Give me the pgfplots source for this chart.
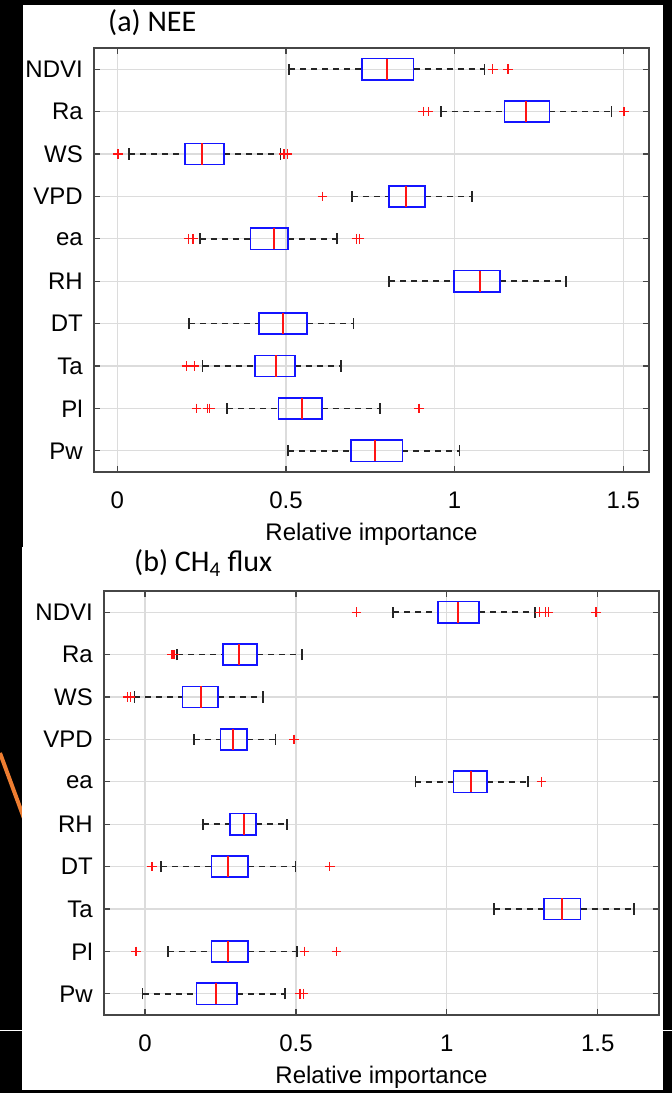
\documentclass[border=0pt]{standalone}
\usepackage{pgfplots}
\pgfplotsset{compat=1.18}
\usepgfplotslibrary{statistics}
\usepackage{fontspec}
\setmainfont{Liberation Sans}
\newfontfamily\titlefont{Carlito}

\definecolor{axisgray}{RGB}{70,70,70}
\definecolor{gridgray}{RGB}{220,220,220}
\definecolor{boxblue}{RGB}{20,20,255}
\definecolor{medred}{RGB}{255,20,20}
\definecolor{arroworange}{RGB}{237,125,49}

\newcommand{\ticksize}{\fontsize{24}{28}\selectfont}

\pgfplotsset{
  relimp/.style={
    scale only axis,
    width=555pt, height=424pt,
    ymin=0.5, ymax=10.5,
    ytick={1,...,10},
    yticklabels={Pw,Pl,Ta,DT,RH,ea,VPD,WS,Ra,NDVI},
    xtick={0,0.5,1,1.5},
    xticklabels={0,0.5,1,1.5},
    grid=major,
    grid style={gridgray, line width=1.3pt},
    axis line style={axisgray, line width=1.3pt},
    major tick style={axisgray, line width=1.3pt},
    major tick length=6pt,
    tick align=inside,
    tick label style={font=\ticksize, inner sep=0pt},
    xticklabel style={anchor=north, yshift=-20pt},
    yticklabel style={anchor=east, xshift=-11pt},
    xlabel={Relative importance},
    xlabel style={font=\ticksize, at={(axis description cs:0.5,0)},
      anchor=north, inner sep=0pt, yshift=-51pt},
    boxplot/draw direction=x,
    boxplot/box extend=0.5,
    boxplot/whisker extend=0.26,
    boxplot/every box/.style={draw=boxblue, line width=1.7pt, solid},
    boxplot/every median/.style={draw=medred, line width=2pt, solid},
    boxplot/draw/lower whisker/.code={%
      \draw[black!85, line width=1.5pt, dash pattern=on 6pt off 5pt]
        (boxplot whisker cs:\pgfplotsboxplotvalue{lower whisker},0.5) --
        (boxplot whisker cs:\pgfplotsboxplotvalue{lower quartile},0.5);
      \draw[black!85, line width=1.7pt, solid]
        (boxplot whisker cs:\pgfplotsboxplotvalue{lower whisker},0) --
        (boxplot whisker cs:\pgfplotsboxplotvalue{lower whisker},1);
    },
    boxplot/draw/upper whisker/.code={%
      \draw[black!85, line width=1.5pt, dash pattern=on 6pt off 5pt]
        (boxplot whisker cs:\pgfplotsboxplotvalue{upper quartile},0.5) --
        (boxplot whisker cs:\pgfplotsboxplotvalue{upper whisker},0.5);
      \draw[black!85, line width=1.7pt, solid]
        (boxplot whisker cs:\pgfplotsboxplotvalue{upper whisker},0) --
        (boxplot whisker cs:\pgfplotsboxplotvalue{upper whisker},1);
    },
  },
  outliers/.style={only marks, mark=+, mark size=4.8pt,
    mark options={draw=medred, line width=1.3pt}},
}

% position, lower whisker, lower quartile, median, upper quartile, upper whisker
\newcommand{\relbox}[6]{%
  \addplot[boxplot prepared={draw position=#1, lower whisker=#2,
    lower quartile=#3, median=#4, upper quartile=#5, upper whisker=#6}]
    coordinates {};}

\begin{document}
\begin{tikzpicture}
\useasboundingbox (0pt,0pt) rectangle (672pt,1093pt);
\fill[black] (0pt,0pt) rectangle (672pt,1093pt);
\draw[white, line width=1pt] (0pt,62pt) -- (672pt,62pt);
\draw[arroworange, line width=4pt] (0pt,340pt) -- (25pt,272pt);
\fill[white] (23pt,546pt) rectangle (663pt,1088pt);
\fill[white] (22pt,3pt) rectangle (663pt,546pt);

% (a) NEE
\begin{axis}[relimp, at={(94pt,621pt)}, anchor=south west,
  xmin=-0.069, xmax=1.576]
  \relbox{10}{0.509}{0.725}{0.800}{0.878}{1.088}
  \relbox{9}{0.959}{1.148}{1.210}{1.281}{1.465}
  \relbox{8}{0.035}{0.201}{0.251}{0.317}{0.484}
  \relbox{7}{0.695}{0.805}{0.857}{0.912}{1.052}
  \relbox{6}{0.245}{0.395}{0.464}{0.507}{0.652}
  \relbox{5}{0.806}{0.998}{1.075}{1.134}{1.331}
  \relbox{4}{0.212}{0.420}{0.492}{0.562}{0.700}
  \relbox{3}{0.253}{0.408}{0.470}{0.526}{0.664}
  \relbox{2}{0.325}{0.478}{0.548}{0.606}{0.778}
  \relbox{1}{0.507}{0.692}{0.765}{0.845}{1.014}
  \addplot[outliers] coordinates {
    (1.113,10) (1.158,10)
    (0.907,9) (0.923,9) (1.502,9)
    (0.002,8) (0.494,8) (0.504,8)
    (0.608,7)
    (0.212,6) (0.224,6) (0.709,6) (0.717,6)
    (0.205,3) (0.228,3)
    (0.235,2) (0.267,2) (0.274,2) (0.894,2)
  };
\end{axis}

% (b) CH4 flux
\begin{axis}[relimp, at={(104pt,78pt)}, anchor=south west,
  xmin=-0.136, xmax=1.703]
  \relbox{10}{0.822}{0.971}{1.037}{1.106}{1.292}
  \relbox{9}{0.107}{0.258}{0.311}{0.371}{0.519}
  \relbox{8}{-0.035}{0.124}{0.186}{0.241}{0.392}
  \relbox{7}{0.162}{0.250}{0.293}{0.338}{0.432}
  \relbox{6}{0.896}{1.022}{1.079}{1.133}{1.268}
  \relbox{5}{0.191}{0.282}{0.328}{0.367}{0.470}
  \relbox{4}{0.053}{0.220}{0.275}{0.341}{0.499}
  \relbox{3}{1.157}{1.321}{1.381}{1.443}{1.620}
  \relbox{2}{0.075}{0.220}{0.275}{0.341}{0.503}
  \relbox{1}{-0.008}{0.170}{0.234}{0.305}{0.463}
  \addplot[outliers] coordinates {
    (0.701,10) (1.307,10) (1.328,10) (1.336,10) (1.494,10)
    (0.089,9) (0.096,9)
    (-0.057,8) (-0.049,8)
    (0.494,7)
    (1.313,6)
    (0.023,4) (0.612,4)
    (-0.030,2) (0.529,2) (0.634,2)
    (0.513,1) (0.524,1)
  };
\end{axis}

\node[anchor=base west, inner sep=0pt, font=\titlefont\fontsize{30}{35}\selectfont]
  at (108pt,1061pt) {(a) NEE};
\node[anchor=base west, inner sep=0pt, font=\titlefont\fontsize{30}{35}\selectfont]
  at (134pt,521pt) {(b) CH\textsubscript{4} flux};
\end{tikzpicture}
\end{document}
